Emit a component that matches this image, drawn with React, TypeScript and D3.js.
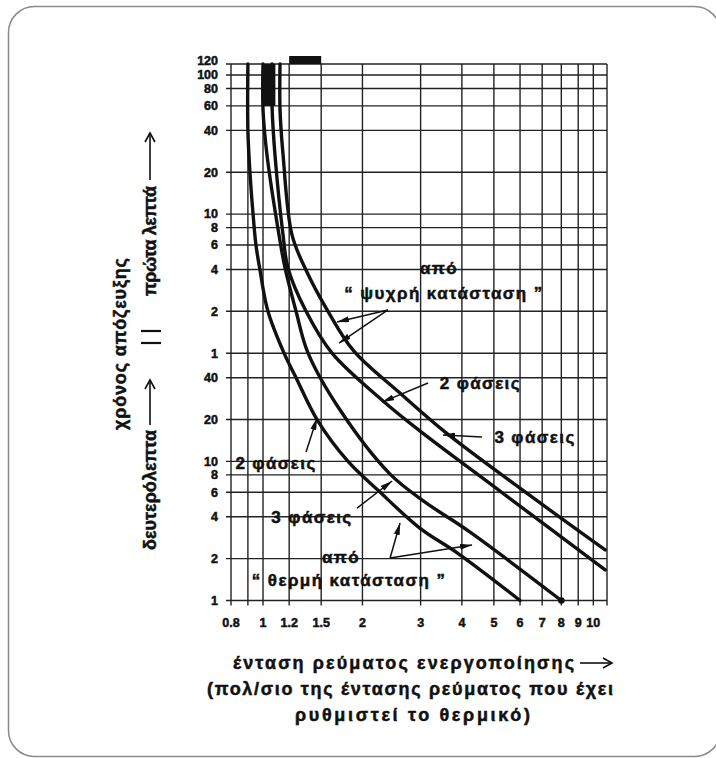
import React from "react";
import * as d3 from "d3";

// ---------- axis values ----------
const xGridValues = [0.8, 0.9, 1, 1.2, 1.5, 2, 3, 4, 5, 6, 7, 8, 9, 10, 11];
const xTickValues = [0.8, 1, 1.2, 1.5, 2, 3, 4, 5, 6, 7, 8, 9, 10];
const xTickLabels = ["0.8", "1", "1.2", "1.5", "2", "3", "4", "5", "6", "7", "8", "9", "10"];
const ySecondTicks = [1, 2, 4, 6, 8, 10, 20, 40]; // δευτερόλεπτα
const yMinuteTicks = [1, 2, 4, 6, 8, 10, 20, 40, 60, 80, 100, 120]; // πρώτα λεπτά

// ---------- curves: [multiple of set current, trip time in seconds] ----------
const hot2Phase: [number, number][] = [
  [0.9, 7200], [0.9, 2400], [0.913, 1200], [0.933, 600], [0.952, 360], [0.979, 238],
  [1.035, 120], [1.158, 60], [1.259, 40], [1.457, 20], [1.809, 10], [2.23, 6.2],
  [2.99, 3.3], [3.87, 2.2], [6.0, 1.0],
];
const hot3Phase: [number, number][] = [
  [1.0, 7200], [1.0, 3400], [1.028, 1600], [1.118, 425], [1.166, 246], [1.259, 120],
  [1.369, 60], [1.711, 23.4], [2.425, 8.1], [3.095, 5.1], [4.236, 3.1], [8.0, 1.0],
];
const cold2Phase: [number, number][] = [
  [1.065, 7200], [1.065, 3600], [1.087, 1600], [1.15, 425], [1.19, 246], [1.35, 120],
  [1.618, 60], [2.309, 27.2], [2.99, 16.5], [4.973, 6.66], [10.86, 1.66],
];
const cold3Phase: [number, number][] = [
  [1.126, 7200], [1.126, 3366], [1.15, 1600], [1.224, 425], [1.349, 238], [1.573, 120],
  [1.885, 62], [2.597, 31], [3.554, 16.3], [5.87, 6.66], [10.86, 2.31],
];

// ---------- annotations (data coordinates) ----------
const labelTexts = [
  "από",
  "“ ψυχρή κατάσταση ”",
  "2 φάσεις",
  "3 φάσεις",
  "2 φάσεις",
  "3 φάσεις",
  "από",
  "“ θερμή κατάσταση ”",
];
const labelPos: [number, number][] = [
  [3.41, 246], [3.53, 162], [4.55, 36.6], [6.66, 15], [1.095, 9.74], [1.407, 3.98], [1.723, 2.05], [1.822, 1.4],
];
// arrows: [fromX, fromS, toX, toS]
const arrows: [number, number, number, number][] = [
  [2.39, 122.7, 1.675, 100.6],
  [2.39, 122.7, 1.699, 71],
  [3.16, 36.6, 2.293, 26.7],
  [4.6, 15, 3.51, 15.5],
  [1.35, 11.7, 1.457, 20.5],
  [1.926, 4.62, 2.459, 7.23],
  [2.425, 2.02, 2.6, 3.61],
  [2.425, 2.02, 4.295, 2.51],
];

const FONT = "'Liberation Sans', Arial, sans-serif";

export default function App() {
  const x = d3.scaleLog().domain([0.8, 11]).range([231, 607]);
  const y = d3.scaleLog().domain([1, 7200]).range([600.5, 64]);
  const line = d3
    .line<[number, number]>()
    .x((d) => x(d[0]))
    .y((d) => y(d[1]))
    .curve(d3.curveCatmullRom.alpha(0.5));

  const yGrid = [...ySecondTicks, ...yMinuteTicks.map((m) => m * 60)];
  const x0 = x(0.8);
  const x1 = x(11);
  const yTop = y(7200);
  const yBot = y(1);
  const curves = [hot2Phase, hot3Phase, cold2Phase, cold3Phase];
  const endDot = hot3Phase[hot3Phase.length - 1];
  const heavy = { stroke: "#111", strokeWidth: 0.5, paintOrder: "stroke" as const };

  return (
    <svg
      width={716}
      height={758}
      style={{ position: "absolute", left: 0, top: 0, background: "#fff" }}
    >
      <defs>
        <marker id="ah" viewBox="0 0 12 6" refX="12" refY="3" markerWidth="12" markerHeight="6"
          orient="auto" markerUnits="userSpaceOnUse">
          <path d="M0,0 L12,3 L0,6 Z" fill="#111" />
        </marker>
      </defs>
      <rect x={8.5} y={6.5} width={712} height={750} rx={26} fill="none" stroke="#8a8a8a" strokeWidth={1.5} />

      {/* grid */}
      <g stroke="#222" strokeWidth={1.4}>
        {yGrid.map((s) => (
          <line key={"h" + s} x1={x0 - 5} x2={x1} y1={y(s)} y2={y(s)} />
        ))}
        {xGridValues.map((v) => (
          <line key={"v" + v} x1={x(v)} x2={x(v)} y1={yTop} y2={yBot + 5} />
        ))}
      </g>

      {/* y labels */}
      <g fontFamily={FONT} fontWeight={700} fontSize={12.5} fill="#111" textAnchor="end" style={heavy}>
        {ySecondTicks.map((s) => (
          <text key={"s" + s} x={218} y={y(s)} dy="0.35em">{s}</text>
        ))}
        {yMinuteTicks.map((m) => (
          <text key={"m" + m} x={218} y={y(m * 60) - (m === 120 ? 3 : 0)} dy="0.35em">{m}</text>
        ))}
      </g>
      {/* x labels */}
      <g fontFamily={FONT} fontWeight={700} fontSize={12.5} fill="#111" textAnchor="middle" style={heavy}>
        {xTickValues.map((v, i) => (
          <text key={"x" + v} x={x(v)} y={627}>{xTickLabels[i]}</text>
        ))}
      </g>

      {/* black blocks */}
      <rect x={x(1.0)} y={yTop} width={x(1.09) - x(1.0)} height={y(3600) - yTop} fill="#111" />
      <rect x={x(1.2)} y={yTop - 8} width={x(1.5) - x(1.2)} height={8} fill="#111" />

      {/* curves */}
      <g fill="none" stroke="#111" strokeWidth={3.4} strokeLinecap="round">
        {curves.map((c, i) => (
          <path key={i} d={line(c) || ""} />
        ))}
      </g>
      <circle cx={x(endDot[0])} cy={y(endDot[1])} r={3.3} fill="#111" />

      {/* arrows */}
      <g stroke="#111" strokeWidth={1.5}>
        {arrows.map((a, i) => (
          <line key={i} x1={x(a[0])} y1={y(a[1])} x2={x(a[2])} y2={y(a[3])} markerEnd="url(#ah)" />
        ))}
      </g>

      {/* annotation labels */}
      <g fontFamily={FONT} fontWeight={700} fontSize={17} fill="#111" textAnchor="middle" letterSpacing={1.4} style={heavy}>
        {labelTexts.map((t, i) => (
          <text key={i} x={x(labelPos[i][0])} y={y(labelPos[i][1])} dy="0.35em">{t}</text>
        ))}
      </g>

      {/* y title */}
      <g fontFamily={FONT} fontWeight={700} fontSize={18} fill="#111" style={heavy}>
        <text transform="translate(126,344) rotate(-90)" textAnchor="middle" textLength={172} lengthAdjust="spacing">χρόνος απόζευξης</text>
        <g transform="translate(156,0) rotate(-90)">
          <text x={-550} y={0} textAnchor="start" textLength={120} lengthAdjust="spacing">δευτερόλεπτα</text>
          <text x={-296} y={0} textAnchor="start" textLength={110} lengthAdjust="spacing">πρώτα λεπτά</text>
        </g>
      </g>
      <g stroke="#111" strokeWidth={1.6} fill="none">
        <line x1={150} x2={150} y1={425} y2={381} />
        <path d="M145,389 L150,380 L155,389" />
        <line x1={150} x2={150} y1={180} y2={134} />
        <path d="M145,142 L150,133 L155,142" />
        <line x1={141} x2={161} y1={331} y2={331} strokeWidth={2.2} />
        <line x1={141} x2={161} y1={343} y2={343} strokeWidth={2.2} />
      </g>

      {/* x title */}
      <g fontFamily={FONT} fontWeight={700} fontSize={18} fill="#111" style={heavy}>
        <text x={233} y={669} textLength={341} lengthAdjust="spacing">ένταση ρεύματος ενεργοποίησης</text>
        <text x={207} y={695} textLength={406} lengthAdjust="spacing">(πολ/σιο της έντασης ρεύματος που έχει</text>
        <text x={295} y={721} textLength={235} lengthAdjust="spacing">ρυθμιστεί το θερμικό)</text>
      </g>
      <g stroke="#111" strokeWidth={1.6} fill="none">
        <line x1={580} x2={612} y1={663} y2={663} />
        <path d="M603,658 L612,663 L603,668" />
      </g>
    </svg>
  );
}
